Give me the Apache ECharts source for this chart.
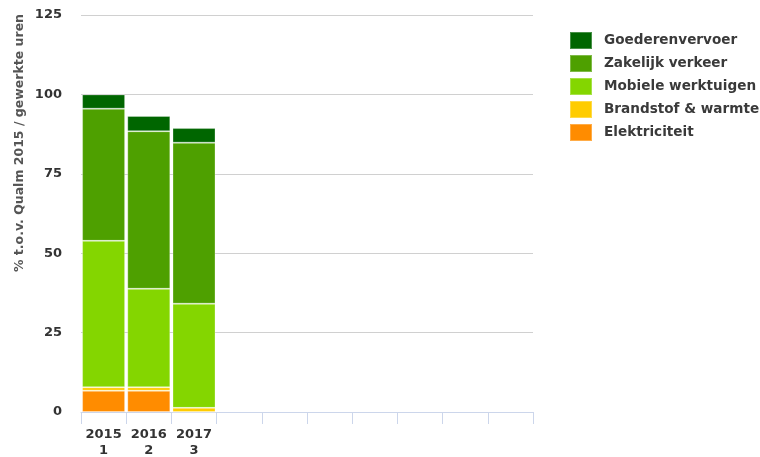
<!DOCTYPE html>
<html>
<head>
<meta charset="utf-8">
<script src="https://cdn.jsdelivr.net/npm/echarts@6/dist/echarts.min.js"></script>
<style>html,body{margin:0;padding:0;background:#fff}#c{width:760px;height:457px}</style>
</head>
<body>
<div id="c"></div>
<script>
const categories = ['2015\n1', '2016\n2', '2017\n3', '', '', '', '', '', '', ''];
const elektriciteit = [6.7, 6.7, 0];
const brandstof = [1.1, 1.1, 1.3];
const mobiele = [46.1, 31.0, 32.8];
const zakelijk = [41.6, 49.6, 50.7];
const goederen = [4.5, 4.8, 4.6];
const yTicks = { min: 0, max: 125, interval: 25 };
const axisTitle = '% t.o.v. Qualm 2015 / gewerkte uren';

const FONT = 'DejaVu Sans';
function mk(name, data, color) {
  return {
    name, type: 'bar', stack: 'total', data, barWidth: 43,
    itemStyle: { color, borderColor: 'rgba(255,255,255,0.28)', borderWidth: 1 },
    emphasis: { disabled: true }
  };
}
const chart = echarts.init(document.getElementById('c'));
chart.setOption({
  animation: false,
  textStyle: { fontFamily: FONT },
  grid: { left: 81, right: 227, top: 15, bottom: 45, outerBoundsMode: 'none', containLabel: false },
  legend: {
    data: ['Goederenvervoer', 'Zakelijk verkeer', 'Mobiele werktuigen', 'Brandstof & warmte', 'Elektriciteit'],
    orient: 'vertical', left: 569, top: 31, padding: 0, itemWidth: 22, itemHeight: 17, itemGap: 4,
    icon: 'rect',
    textStyle: { fontFamily: FONT, fontSize: 13.6, lineHeight: 17, fontWeight: 'bold', color: '#3a3a3a', padding: [0, 0, 0, 7] }
  },
  xAxis: {
    type: 'category', data: categories,
    axisLine: { show: true, lineStyle: { color: '#ccd6eb' } },
    axisTick: { show: true, length: 12, lineStyle: { color: '#ccd6eb' } },
    axisLabel: { fontFamily: FONT, fontSize: 13, fontWeight: 'bold', color: '#333', lineHeight: 16, margin: 15, interval: 0 }
  },
  yAxis: {
    type: 'value', min: yTicks.min, max: yTicks.max, interval: yTicks.interval,
    splitLine: { lineStyle: { color: '#d0d0d0' } },
    axisLabel: { fontFamily: FONT, fontSize: 13, fontWeight: 'bold', color: '#333', margin: 19 }
  },
  graphic: [{
    type: 'text', x: 20, y: 143, rotation: Math.PI / 2,
    style: { text: axisTitle, fontFamily: FONT, fontSize: 12.5, fontWeight: 'bold', fill: '#555', align: 'center', verticalAlign: 'middle' }
  }],
  series: [
    mk('Elektriciteit', elektriciteit, '#ff8c00'),
    mk('Brandstof & warmte', brandstof, '#ffcc00'),
    mk('Mobiele werktuigen', mobiele, '#84d600'),
    mk('Zakelijk verkeer', zakelijk, '#4ea000'),
    mk('Goederenvervoer', goederen, '#006600')
  ]
});
</script>
</body>
</html>
